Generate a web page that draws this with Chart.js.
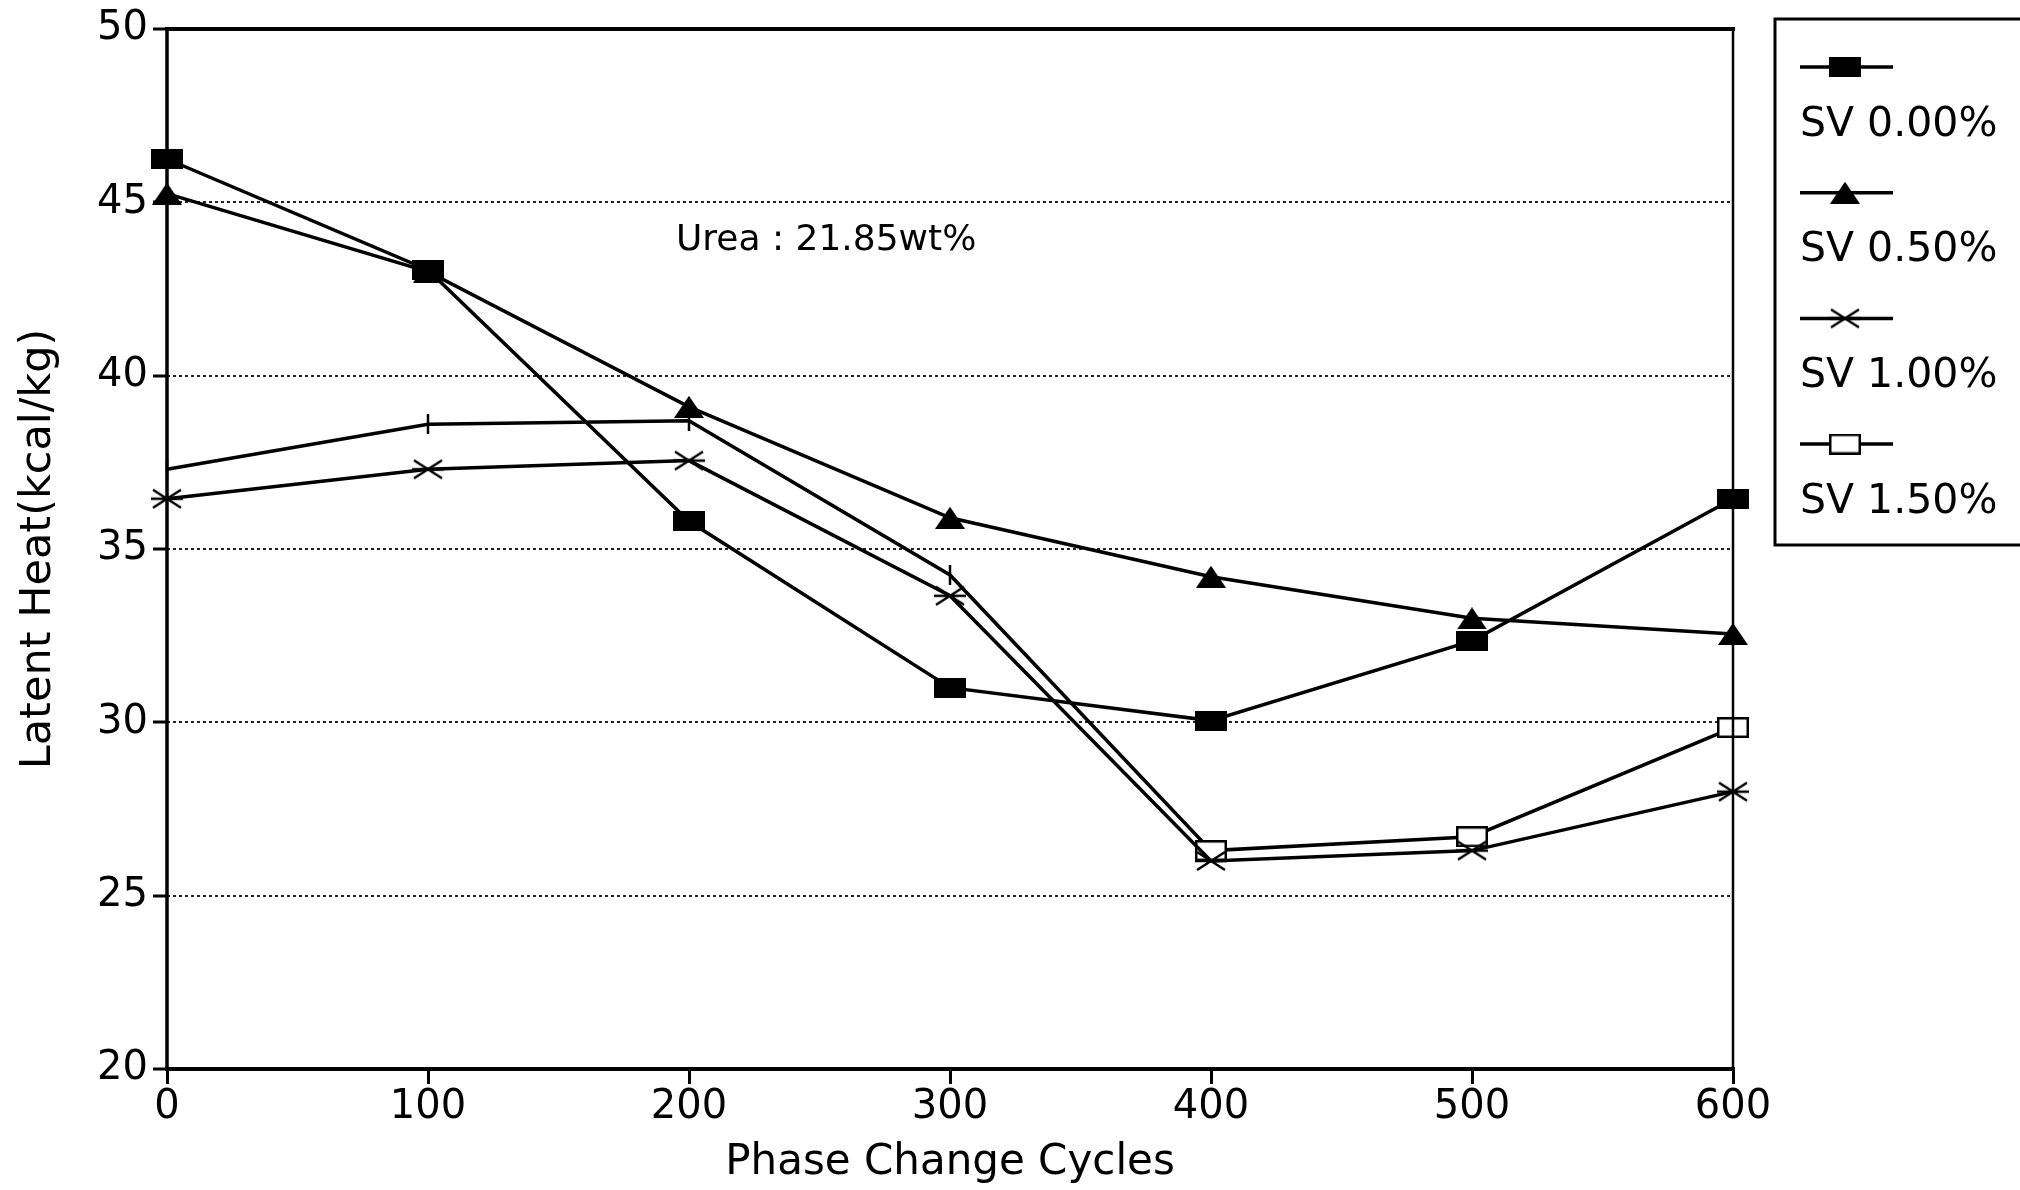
<!DOCTYPE html>
<html>
<head>
<meta charset="utf-8">
<script src="https://cdn.jsdelivr.net/npm/chart.js@4.4.1/dist/chart.umd.min.js"></script>
<style>
  html, body { margin: 0; padding: 0; background: #fff; }
</style>
</head>
<body>
<canvas id="chart" width="2020" height="1190"></canvas>
<script>
// Phase change cycles (x axis)
const cycles = [0, 100, 200, 300, 400, 500, 600];
// Latent heat (kcal/kg) per series
const sv000 = [46.25, 43.05, 35.8, 31.0, 30.05, 32.35, 36.45];
const sv050 = [45.25, 43.0, 39.1, 35.9, 34.2, 33.0, 32.55];
const sv100 = [36.45, 37.3, 37.55, 33.65, 26.0, 26.3, 28.0];
const sv150 = [37.3, 38.6, 38.7, 34.25, 26.3, 26.7, 29.85];
const seriesLabels = ["SV 0.00%", "SV 0.50%", "SV 1.00%", "SV 1.50%"];
const noteText = "Urea : 21.85wt%";

const FONT = "'DejaVu Sans', 'Liberation Sans', sans-serif";

// Small canvases used as point markers
function makeMarker(w, h, draw) {
  const c = document.createElement("canvas");
  c.width = w;
  c.height = h;
  draw(c.getContext("2d"), w, h);
  return c;
}

const filledBox = makeMarker(32, 20, (g, w, h) => {
  g.fillStyle = "#000";
  g.fillRect(0, 0, w, h);
});

const openBox = makeMarker(32, 21, (g, w, h) => {
  g.fillStyle = "#fff";
  g.fillRect(0, 0, w, h);
  g.strokeStyle = "#000";
  g.lineWidth = 2.5;
  g.strokeRect(1.25, 1.25, w - 2.5, h - 2.5);
});

const triangle = makeMarker(30, 22, (g, w, h) => {
  g.fillStyle = "#000";
  g.beginPath();
  g.moveTo(w / 2, 0);
  g.lineTo(w, h);
  g.lineTo(0, h);
  g.closePath();
  g.fill();
});

const star = makeMarker(32, 22, (g, w, h) => {
  g.strokeStyle = "#000";
  g.lineWidth = 2.5;
  g.beginPath();
  g.moveTo(2, 2); g.lineTo(w - 2, h - 2);
  g.moveTo(w - 2, 2); g.lineTo(2, h - 2);
  g.moveTo(0, h / 2); g.lineTo(w, h / 2);
  g.stroke();
});

// faded marks where the open squares barely show
const tick = makeMarker(6, 20, (g, w, h) => {
  g.strokeStyle = "#000";
  g.lineWidth = 2.5;
  g.beginPath();
  g.moveTo(w / 2, 0);
  g.lineTo(w / 2, h);
  g.stroke();
});

const markers = [filledBox, triangle, star, openBox];
const seriesValues = [sv000, sv050, sv100, sv150];

const datasets = seriesValues.map((vals, i) => ({
  label: seriesLabels[i],
  data: cycles.map((c, j) => ({ x: c, y: vals[j] })),
  borderColor: "#000",
  backgroundColor: "#000",
  borderWidth: 3.5,
  tension: 0,
  pointRadius: 10,
  pointStyle: i === 3 ? cycles.map((c, j) => (j < 4 ? tick : openBox)) : markers[i],
  clip: false,
}));

// Box around plot area
const framePlugin = {
  id: "frame",
  afterDatasetsDraw(chart) {
    const { ctx, chartArea: a } = chart;
    ctx.save();
    ctx.strokeStyle = "#000";
    ctx.lineCap = "square";
    const side = (x1, y1, x2, y2, w) => {
      ctx.lineWidth = w;
      ctx.beginPath();
      ctx.moveTo(x1, y1);
      ctx.lineTo(x2, y2);
      ctx.stroke();
    };
    side(a.left, a.top, a.right, a.top, 4);
    side(a.left, a.bottom, a.right, a.bottom, 4);
    side(a.left, a.top, a.left, a.bottom, 3.5);
    side(a.right, a.top, a.right, a.bottom, 2.5);
    ctx.restore();
  },
};

// Urea note inside the plot
const notePlugin = {
  id: "note",
  afterDraw(chart) {
    const { ctx, scales } = chart;
    ctx.save();
    ctx.fillStyle = "#000";
    ctx.font = "36px " + FONT;
    ctx.textBaseline = "middle";
    ctx.textAlign = "left";
    ctx.fillText(noteText, scales.x.getPixelForValue(195), scales.y.getPixelForValue(43.9));
    ctx.restore();
  },
};

// Legend: marker line above each label, in a box to the right
const legendPlugin = {
  id: "legendBox",
  afterDraw(chart) {
    const { ctx, chartArea: a } = chart;
    const left = a.right + 42;
    const top = 19;
    const bottom = 545;
    const step = 125.7;
    ctx.save();
    ctx.strokeStyle = "#000";
    ctx.lineWidth = 3;
    ctx.strokeRect(left, top, chart.width - left + 10, bottom - top);

    chart.data.datasets.forEach((ds, i) => {
      const my = 67 + i * step;
      const x0 = left + 25;
      const x1 = left + 118;
      ctx.lineWidth = 3.5;
      ctx.beginPath();
      ctx.moveTo(x0, my);
      ctx.lineTo(x1, my);
      ctx.stroke();
      const m = markers[i];
      ctx.drawImage(m, left + 70 - m.width / 2, my - m.height / 2);

      ctx.fillStyle = "#000";
      ctx.font = "41px " + FONT;
      ctx.textBaseline = "middle";
      ctx.textAlign = "left";
      ctx.fillText(ds.label, x0, 125 + i * step);
    });
    ctx.restore();
  },
};

new Chart(document.getElementById("chart").getContext("2d"), {
  type: "line",
  data: { datasets: datasets },
  options: {
    responsive: false,
    animation: false,
    layout: { padding: { left: 0, right: 287, top: 26, bottom: 0 } },
    plugins: {
      legend: { display: false },
      tooltip: { enabled: false },
    },
    scales: {
      x: {
        type: "linear",
        min: 0,
        max: 600,
        afterFit: (scale) => { scale.height = 121; },
        ticks: {
          stepSize: 100,
          color: "#000",
          padding: 0,
          font: { family: FONT, size: 40 },
        },
        grid: {
          drawOnChartArea: false,
          drawTicks: true,
          tickLength: 15,
          tickColor: "#000",
          tickWidth: 3,
        },
        border: { display: false },
        title: {
          display: true,
          text: "Phase Change Cycles",
          color: "#000",
          font: { family: FONT, size: 42 },
          padding: { top: 0, bottom: 2 },
        },
      },
      y: {
        min: 20,
        max: 50,
        afterFit: (scale) => { scale.width = 167; },
        ticks: {
          stepSize: 5,
          color: "#000",
          padding: 5,
          font: { family: FONT, size: 40 },
        },
        grid: {
          drawOnChartArea: true,
          drawTicks: true,
          tickLength: 14,
          tickColor: "#000",
          tickWidth: 3,
          lineWidth: 2,
          color: (ctx) =>
            ctx.tick && (ctx.tick.value === 20 || ctx.tick.value === 50) ? "rgba(0,0,0,0)" : "#222",
        },
        border: { display: false, dash: [3, 3] },
        title: {
          display: true,
          text: "Latent Heat(kcal/kg)",
          color: "#000",
          font: { family: FONT, size: 43 },
          padding: { top: 13, bottom: 0 },
        },
      },
    },
  },
  plugins: [framePlugin, notePlugin, legendPlugin],
});
</script>
</body>
</html>
